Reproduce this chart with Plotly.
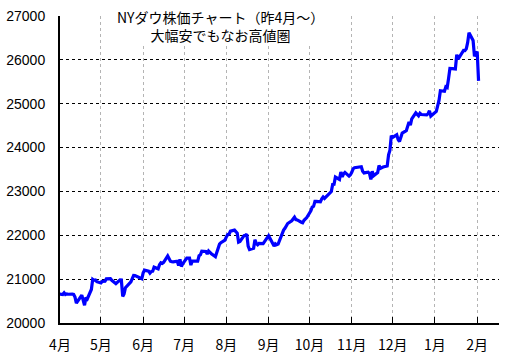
import plotly.graph_objects as go

dates = [
 "2017-03-31","2017-04-03","2017-04-04","2017-04-05","2017-04-06","2017-04-07","2017-04-10","2017-04-11","2017-04-12","2017-04-13",
 "2017-04-17","2017-04-18","2017-04-19","2017-04-20","2017-04-21","2017-04-24","2017-04-25","2017-04-26","2017-04-27","2017-04-28",
 "2017-05-01","2017-05-02","2017-05-03","2017-05-04","2017-05-05","2017-05-08","2017-05-09","2017-05-10","2017-05-11","2017-05-12",
 "2017-05-15","2017-05-16","2017-05-17","2017-05-18","2017-05-19","2017-05-22","2017-05-23","2017-05-24","2017-05-25","2017-05-26",
 "2017-05-30","2017-05-31","2017-06-01","2017-06-02","2017-06-05","2017-06-06","2017-06-07","2017-06-08","2017-06-09","2017-06-12",
 "2017-06-13","2017-06-14","2017-06-15","2017-06-16","2017-06-19","2017-06-20","2017-06-21","2017-06-22","2017-06-23","2017-06-26",
 "2017-06-27","2017-06-28","2017-06-29","2017-06-30","2017-07-03","2017-07-05","2017-07-06","2017-07-07","2017-07-10","2017-07-11",
 "2017-07-12","2017-07-13","2017-07-14","2017-07-17","2017-07-18","2017-07-19","2017-07-20","2017-07-21","2017-07-24","2017-07-25",
 "2017-07-26","2017-07-27","2017-07-28","2017-07-31","2017-08-01","2017-08-02","2017-08-03","2017-08-04","2017-08-07","2017-08-08",
 "2017-08-09","2017-08-10","2017-08-11","2017-08-14","2017-08-15","2017-08-16","2017-08-17","2017-08-18","2017-08-21","2017-08-22",
 "2017-08-23","2017-08-24","2017-08-25","2017-08-28","2017-08-29","2017-08-30","2017-08-31","2017-09-01","2017-09-05","2017-09-06",
 "2017-09-07","2017-09-08","2017-09-11","2017-09-12","2017-09-13","2017-09-14","2017-09-15","2017-09-18","2017-09-19","2017-09-20",
 "2017-09-21","2017-09-22","2017-09-25","2017-09-26","2017-09-27","2017-09-28","2017-09-29","2017-10-02","2017-10-03","2017-10-04",
 "2017-10-05","2017-10-06","2017-10-09","2017-10-10","2017-10-11","2017-10-12","2017-10-13","2017-10-16","2017-10-17","2017-10-18",
 "2017-10-19","2017-10-20","2017-10-23","2017-10-24","2017-10-25","2017-10-26","2017-10-27","2017-10-30","2017-10-31","2017-11-01",
 "2017-11-02","2017-11-03","2017-11-06","2017-11-07","2017-11-08","2017-11-09","2017-11-10","2017-11-13","2017-11-14","2017-11-15",
 "2017-11-16","2017-11-17","2017-11-20","2017-11-21","2017-11-22","2017-11-24","2017-11-27","2017-11-28","2017-11-29","2017-11-30",
 "2017-12-01","2017-12-04","2017-12-05","2017-12-06","2017-12-07","2017-12-08","2017-12-11","2017-12-12","2017-12-13","2017-12-14",
 "2017-12-15","2017-12-18","2017-12-19","2017-12-20","2017-12-21","2017-12-22","2017-12-26","2017-12-27","2017-12-28","2017-12-29",
 "2018-01-02","2018-01-03","2018-01-04","2018-01-05","2018-01-08","2018-01-09","2018-01-10","2018-01-11","2018-01-12","2018-01-16",
 "2018-01-17","2018-01-18","2018-01-19","2018-01-22","2018-01-23","2018-01-24","2018-01-25","2018-01-26","2018-01-29","2018-01-30",
 "2018-01-31","2018-02-01","2018-02-02",
]

closes = [
 20663,20650,20689,20648,20663,20656,20658,20651,20592,20453,
 20637,20523,20404,20579,20548,20764,20996,20975,20981,20941,
 20913,20949,20957,20951,21006,21012,20975,20943,20919,20896,
 20982,20979,20607,20663,20805,20895,20937,21012,21083,21080,
 21029,21009,21144,21206,21184,21136,21173,21182,21272,21236,
 21328,21375,21360,21384,21529,21468,21410,21397,21395,21409,
 21311,21454,21288,21350,21479,21479,21320,21414,21409,21409,
 21532,21554,21638,21630,21574,21641,21611,21580,21513,21613,
 21711,21797,21830,21891,21964,22016,22026,22093,22118,22085,
 22049,21844,21858,21993,21999,22025,21751,21675,21703,21900,
 21813,21784,21814,21809,21865,21892,21948,21988,21754,21807,
 21785,21798,22057,22119,22159,22203,22268,22332,22370,22412,
 22359,22350,22297,22284,22341,22381,22405,22557,22642,22661,
 22775,22774,22762,22831,22872,22841,22872,22957,22998,23158,
 23163,23329,23274,23442,23330,23401,23434,23348,23377,23436,
 23516,23539,23549,23557,23563,23462,23423,23440,23410,23272,
 23458,23358,23431,23591,23527,23558,23580,23836,23940,24272,
 24232,24290,24181,24140,24212,24329,24386,24504,24585,24509,
 24652,24792,24755,24726,24782,24754,24746,24775,24838,24719,
 24824,24922,25075,25296,25283,25386,25370,25575,25803,25793,
 26116,26017,26072,26214,26211,26252,26392,26617,26440,26077,
 26149,26187,25521,
]

y_ticks = [20000, 21000, 22000, 23000, 24000, 25000, 26000, 27000]
month_ticks = ["2017-04-01","2017-05-01","2017-06-01","2017-07-01","2017-08-01","2017-09-01",
               "2017-10-01","2017-11-01","2017-12-01","2018-01-01","2018-02-01"]
month_labels = ["4月","5月","6月","7月","8月","9月","10月","11月","12月","1月","2月"]
title_lines = ["NYダウ株価チャート（昨4月～）", "大幅安でもなお高値圏"]

fig = go.Figure()
fig.add_trace(go.Scatter(x=dates, y=closes, mode="lines",
                         line=dict(color="#0000FF", width=3.2), showlegend=False))

fig.update_layout(
    width=522, height=361,
    margin=dict(l=60, r=23, t=16, b=38),
    paper_bgcolor="white", plot_bgcolor="white",
    font=dict(family="Liberation Sans, Arial", size=14, color="black"),
    xaxis=dict(
        type="date", range=["2017-04-01", "2018-02-17"], automargin=False,
        tickmode="array", tickvals=month_ticks, ticktext=month_labels,
        showgrid=True, gridcolor="#b4b4b4", griddash="3px,3px", gridwidth=1,
        showline=True, linecolor="black", linewidth=2,
        ticks="inside", ticklen=6, tickcolor="black", tickwidth=1,
        ticklabelstandoff=8,
        tickfont=dict(family="Noto Sans CJK JP", size=14), zeroline=False,
    ),
    yaxis=dict(
        range=[20000, 27000], tickmode="array", tickvals=y_ticks, automargin=False,
        ticktext=[str(v) for v in y_ticks],
        showgrid=True, gridcolor="black", griddash="3px,3px", gridwidth=1,
        showline=True, linecolor="black", linewidth=2,
        ticks="", zeroline=False, ticklabelstandoff=10,
        tickfont=dict(family="Liberation Sans, Arial", size=14),
    ),
    annotations=[dict(
        xref="paper", yref="paper", x=(220 - 60) / 439, y=1.033,
        xanchor="center", yanchor="top",
        text="<br>".join(title_lines), showarrow=False,
        bgcolor="white", borderpad=0,
        font=dict(family="Noto Sans CJK JP", size=14, color="black"),
    )],
)

fig.write_html("out.html")
